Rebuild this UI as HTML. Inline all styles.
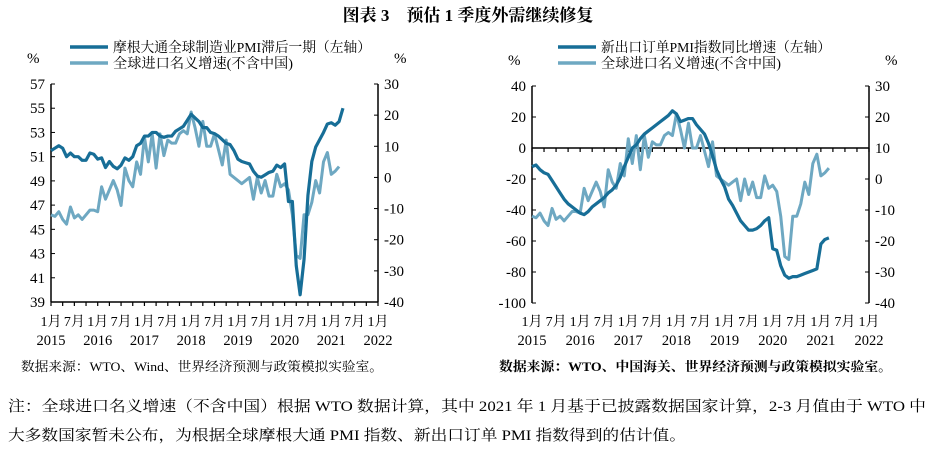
<!DOCTYPE html>
<html><head><meta charset="utf-8"><style>
body{margin:0;background:#fff;}
svg{display:block;font-family:"Liberation Serif","Noto Serif CJK SC",serif;}
</style></head><body>
<svg id="s" width="935" height="451" viewBox="0 0 935 451">
<text x="468" y="21" text-anchor="middle" font-size="17" font-weight="bold">图表 3　预估 1 季度外需继续修复</text>
<text x="21" y="371" font-size="13" textLength="362" lengthAdjust="spacingAndGlyphs">数据来源：WTO、Wind、世界经济预测与政策模拟实验室。</text>
<text x="499" y="371" font-size="13" font-weight="bold" textLength="393" lengthAdjust="spacingAndGlyphs">数据来源：WTO、中国海关、世界经济预测与政策模拟实验室。</text>
<text x="8" y="411" font-size="15" textLength="918" lengthAdjust="spacingAndGlyphs">注：全球进口名义增速（不含中国）根据 WTO 数据计算，其中 2021 年 1 月基于已披露数据国家计算，2-3 月值由于 WTO 中</text>
<text x="8" y="440" font-size="15" textLength="678" lengthAdjust="spacingAndGlyphs">大多数国家暂未公布，为根据全球摩根大通 PMI 指数、新出口订单 PMI 指数得到的估计值。</text>
</svg>
<script>
const pmiLag=[51.5,51.7,51.9,51.7,51.0,51.3,51.0,51.0,50.7,50.7,51.3,51.2,50.8,50.9,50.1,50.6,50.2,50.0,50.3,50.9,50.7,51.0,51.9,52.1,52.7,52.7,53.0,53.0,52.7,52.6,52.7,52.7,53.1,53.3,53.5,54.0,54.5,54.2,53.9,53.4,53.4,53.0,52.9,52.7,52.4,52.1,52.0,51.5,50.8,50.6,50.5,50.4,49.8,49.4,49.3,49.5,49.7,49.8,50.3,50.1,50.4,47.3,47.3,42.0,39.6,42.5,47.8,50.6,51.8,52.4,53.0,53.7,53.8,53.6,53.9,55.0];
const imports=[-12,-12.5,-11,-13.5,-15,-9.5,-13,-12,-13.5,-12,-10.5,-10.5,-11,-3,-7,-4,-1,-4,-9,3,-1,-3,5,1,13,5,14,3,14,7,12,11,11,14,15,14,21,16,10,18,10,10,14,9,4,12,1,0,-1,-2,-1,0,-7,0,-5,-1,-6,-6,1,-3,-2,-4,-12,-25,-26,-12,-12,-8,-1,-5,5,8,1,2,3.5];
const exportOrders=[-12,-11,-14,-16,-17,-21,-25,-29,-33,-36,-38,-40,-42,-43,-41,-38,-36,-34,-32,-29,-27,-24,-19,-12,-6,0,2,6,9,11,13,15,17,19,21,24,22,17,18,19,19,15,12,9,3,-5,-14,-20,-25,-33,-37,-42,-47,-50,-53,-53,-52,-50,-47,-45,-65,-66,-76,-82,-84,-83,-83,-82,-81,-80,-79,-78,-62,-59,-58];
const leftTicksA=[57,55,53,51,49,47,45,43,41,39];
const leftTicksB=[40,20,0,-20,-40,-60,-80,-100];
const rightTicks=[30,20,10,0,-10,-20,-30,-40];
const monthLabels=["1月","7月","1月","7月","1月","7月","1月","7月","1月","7月","1月","7月","1月","7月","1月"];
const years=["2015","2016","2017","2018","2019","2020","2021","2022"];
const NS="http://www.w3.org/2000/svg";
const svg=document.getElementById('s');
function el(t,a,txt,p){const e=document.createElementNS(NS,t);for(const k in a)e.setAttribute(k,a[k]);if(txt!=null)e.textContent=txt;(p||svg).appendChild(e);return e;}
function chart(c){
 const g=el('g',{});
 
 
 const xs=i=>c.x0+i*(c.x1-c.x0)/84;
 const yL=v=>c.y0+(c.lmax-v)/(c.lmax-c.lmin)*(c.y1-c.y0);
 const yR=v=>c.y0+(30-v)/70*(c.y1-c.y0);
 let a=el('line',{x1:c.x0,y1:c.y0,x2:c.x0,y2:c.y1,stroke:'#000','stroke-width':1.5},null,g);
 
 a=el('line',{x1:c.x1,y1:c.y0,x2:c.x1,y2:c.y1,stroke:'#000','stroke-width':1.5},null,g);
 
 const xAxisY=c.zero?yL(0):c.y1;
 a=el('line',{x1:c.x0,y1:xAxisY,x2:c.x1,y2:xAxisY,stroke:'#000','stroke-width':1.5},null,g);
 
 for(let i=0;i<=84;i+=3){const t=el('line',{x1:xs(i),y1:xAxisY,x2:xs(i),y2:xAxisY+4,stroke:'#000','stroke-width':1.2},null,g);
  }
 c.lt.forEach(v=>{el('line',{x1:c.x0,y1:yL(v),x2:c.x0+4,y2:yL(v),stroke:'#000'},null,g);
  const t=el('text',{x:c.x0-6,y:yL(v)+5,'text-anchor':'end','font-size':15},v,g);
  });
 rightTicks.forEach(v=>{el('line',{x1:c.x1,y1:yR(v),x2:c.x1-4,y2:yR(v),stroke:'#000'},null,g);
  const t=el('text',{x:c.x1+6,y:yR(v)+5,'font-size':15},v,g);
  });
 monthLabels.forEach((m,i)=>{const t=el('text',{x:xs(i*6),y:326,'text-anchor':'middle','font-size':14},m,g);
  });
 years.forEach((y,i)=>{const t=el('text',{x:xs(i*12),y:345,'text-anchor':'middle','font-size':14.5},y,g);
  });
 let t=el('text',{x:c.x0-24,y:c.y0-21,'font-size':15},'%',g);
 t=el('text',{x:c.x1+16,y:c.y0-21,'font-size':15},'%',g);
 let p=el('polyline',{points:imports.map((v,i)=>xs(i)+','+yR(v)).join(' '),fill:'none',stroke:'#6ea8c2','stroke-width':3,'stroke-linejoin':'round'},null,g);
 
 p=el('polyline',{points:c.data.map((v,i)=>xs(i)+','+yL(v)).join(' '),fill:'none',stroke:'#176e97','stroke-width':3.2,'stroke-linejoin':'round'},null,g);
 
 el('line',{x1:c.lx,y1:47,x2:c.lx+38,y2:47,stroke:'#176e97','stroke-width':3.5},null,g);
 t=el('text',{x:c.lx+43,y:52,'font-size':14,textLength:c.l1w,lengthAdjust:'spacingAndGlyphs'},c.leg1,g);
 el('line',{x1:c.lx,y1:63,x2:c.lx+38,y2:63,stroke:'#6ea8c2','stroke-width':3.5},null,g);
 t=el('text',{x:c.lx+43,y:68,'font-size':14,textLength:c.l2w,lengthAdjust:'spacingAndGlyphs'},'全球进口名义增速(不含中国)',g);
}
chart({name:'left-chart',x0:51,x1:378,y0:84,y1:302,lmax:57,lmin:39,lt:leftTicksA,data:pmiLag,lineName:'pmi-lagged-line',lx:70,l1w:258,l2w:180,leg1:'摩根大通全球制造业PMI滞后一期（左轴）'});
chart({name:'right-chart',x0:532,x1:869,y0:86,y1:303,lmax:40,lmin:-100,lt:leftTicksB,data:exportOrders,zero:true,lineName:'export-orders-line',lx:558,l1w:230,l2w:180,leg1:'新出口订单PMI指数同比增速（左轴）'});
</script>
</body></html>
